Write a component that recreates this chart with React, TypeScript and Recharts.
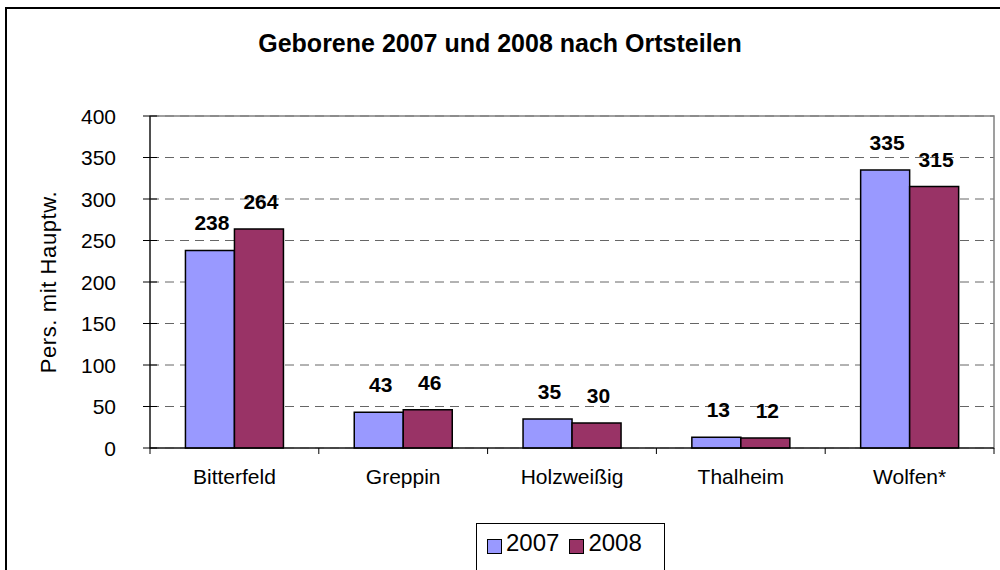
import React from 'react';
import {
  BarChart,
  Bar,
  XAxis,
  YAxis,
  CartesianGrid,
  ReferenceArea,
  LabelList,
} from 'recharts';

const categories = ['Bitterfeld', 'Greppin', 'Holzweißig', 'Thalheim', 'Wolfen*'];
const values2007 = [238, 43, 35, 13, 335];
const values2008 = [264, 46, 30, 12, 315];
const yTicks = [0, 50, 100, 150, 200, 250, 300, 350, 400];

const series = [
  { key: 'y2007', name: '2007', color: '#9999FF' },
  { key: 'y2008', name: '2008', color: '#993366' },
];

const FONT = '"Liberation Sans", Arial, sans-serif';
const W = 1000;
const H = 570;
const MARGIN = { top: 116, right: 6, left: 0, bottom: 82 };
const Y_AXIS_W = 150;
const X_TICK_SIZE = 6;
const X_TICK_MARGIN = 15;
const Y_TICK_SIZE = 6;
const Y_TICK_MARGIN = 28;

const chartData = categories.map((name, i) => ({
  name,
  y2007: values2007[i],
  y2008: values2008[i],
}));

const bandWidth = (W - MARGIN.left - Y_AXIS_W - MARGIN.right) / categories.length;

// x ticks sit on the category boundaries, labels in the middle
const XTick = (props: any) => {
  const { x, y, payload, index } = props;
  const axisY = y - X_TICK_SIZE - X_TICK_MARGIN;
  const left = x - bandWidth / 2;
  return (
    <g>
      <line x1={left} x2={left} y1={axisY} y2={axisY + X_TICK_SIZE} stroke="#000" />
      {index === categories.length - 1 && (
        <line x1={left + bandWidth} x2={left + bandWidth} y1={axisY} y2={axisY + X_TICK_SIZE} stroke="#000" />
      )}
      <text x={x} y={y} dy="0.71em" textAnchor="middle" fontSize={21} fill="#000" fontFamily={FONT}>
        {payload.value}
      </text>
    </g>
  );
};

// y ticks cross the axis
const YTick = (props: any) => {
  const { x, y, payload } = props;
  const axisX = x + Y_TICK_SIZE + Y_TICK_MARGIN;
  return (
    <g>
      <line x1={axisX - 7} x2={axisX + 7} y1={y} y2={y} stroke="#000" />
      <text x={x} y={y} dy="0.36em" textAnchor="end" fontSize={21} fill="#000" fontFamily={FONT}>
        {payload.value}
      </text>
    </g>
  );
};

const App: React.FC = () => {
  return (
    <div
      style={{
        position: 'absolute',
        left: 0,
        top: 0,
        width: W,
        height: H,
        overflow: 'hidden',
        background: '#fff',
        fontFamily: FONT,
      }}
    >
      <div
        style={{
          position: 'absolute',
          left: 5,
          top: 7,
          width: 1010,
          height: 620,
          border: '2px solid #000',
        }}
      />
      <div
        style={{
          position: 'absolute',
          left: 0,
          top: 31,
          width: W,
          textAlign: 'center',
          fontSize: 25,
          lineHeight: '25px',
          fontWeight: 'bold',
          color: '#000',
        }}
      >
        Geborene 2007 und 2008 nach Ortsteilen
      </div>
      <div style={{ position: 'absolute', left: 0, top: 0 }}>
        <BarChart
          width={W}
          height={H}
          data={chartData}
          margin={MARGIN}
          barCategoryGap="21%"
          barGap={0}
        >
          <CartesianGrid vertical={false} stroke="#666" strokeDasharray="9 6" />
          <ReferenceArea y1={0} y2={400} fill="none" stroke="#808080" strokeWidth={1.5} ifOverflow="visible" />
          <XAxis
            dataKey="name"
            height={40}
            axisLine={{ stroke: '#000' }}
            tickLine={false}
            tickSize={X_TICK_SIZE}
            tickMargin={X_TICK_MARGIN}
            tick={<XTick />}
            interval={0}
          />
          <YAxis
            width={Y_AXIS_W}
            domain={[0, 400]}
            ticks={yTicks}
            interval={0}
            axisLine={{ stroke: '#000' }}
            tickLine={false}
            tickSize={Y_TICK_SIZE}
            tickMargin={Y_TICK_MARGIN}
            tick={<YTick />}
            label={{
              value: 'Pers. mit Hauptw.',
              angle: -90,
              position: 'center',
              dx: -27,
              style: { fontSize: 22, letterSpacing: 0.6, fill: '#000', fontFamily: FONT },
            }}
          />
          {series.map((s) => (
            <Bar
              key={s.key}
              dataKey={s.key}
              name={s.name}
              fill={s.color}
              stroke="#000"
              strokeWidth={1.5}
              isAnimationActive={false}
            >
              <LabelList
                dataKey={s.key}
                position="top"
                offset={20}
                dx={2}
                style={{ fontSize: 21, fontWeight: 'bold', fill: '#000', fontFamily: FONT }}
              />
            </Bar>
          ))}
        </BarChart>
      </div>
      <div
        style={{
          position: 'absolute',
          left: 476,
          top: 523,
          width: 189,
          height: 60,
          border: '1px solid #000',
          display: 'flex',
          alignItems: 'flex-start',
          paddingTop: 7,
          boxSizing: 'border-box',
        }}
      >
        {series.map((s) => (
          <div key={s.key} style={{ display: 'flex', alignItems: 'flex-start', marginLeft: 10 }}>
            <span
              style={{
                display: 'inline-block',
                width: 13,
                height: 13,
                background: s.color,
                border: '1.5px solid #000',
                marginRight: 4,
                marginTop: 8,
              }}
            />
            <span style={{ fontSize: 24, lineHeight: '24px', color: '#000' }}>{s.name}</span>
          </div>
        ))}
      </div>
    </div>
  );
};

export default App;
